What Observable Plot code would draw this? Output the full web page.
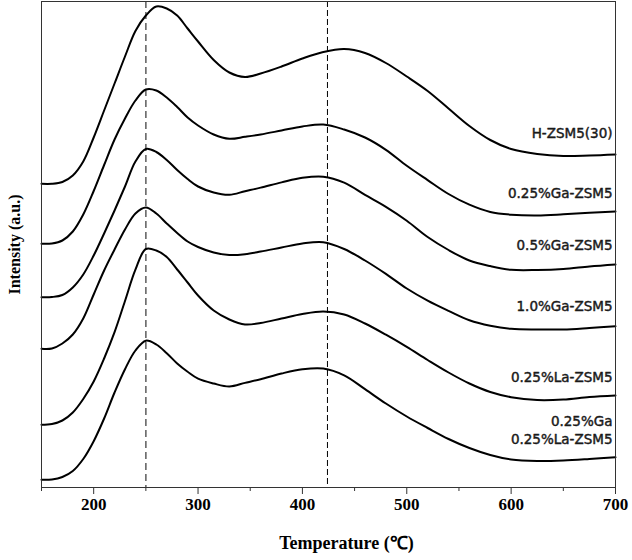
<!DOCTYPE html>
<html>
<head>
<meta charset="utf-8">
<script src="https://cdn.jsdelivr.net/npm/d3@7"></script>
<script src="https://cdn.jsdelivr.net/npm/@observablehq/plot@0.6"></script>
<style>
  html, body { margin: 0; padding: 0; background: #fff; }
  #chart svg { display: block; }
</style>
</head>
<body>
<div id="chart"></div>
<script>
// Temperature grid (°C)
const temps = [150,160,170,180,190,200,210,220,230,240,250,260,270,280,290,300,315,330,345,360,380,400,420,440,460,480,500,520,540,560,580,600,625,650,675,700];

// Stacked TPD intensities (a.u., curves offset vertically as in the figure)
const hzsm5   = [303.7,303.7,305.5,312,326,350,377,404,431,456.5,472,481,479,472,459,446,427.5,415,410.5,414,421,429,435.5,438.5,434.5,424.5,411,396.5,379,361.5,347.5,338.5,333.5,331.5,332,333];
const ga025   = [243.7,244,247,256,273,296.5,322.5,348,369,387,398,397,390,380.5,370,362,353,348.7,350.7,353,357,361,363,358,350,337.7,321.7,307.4,293.5,282.8,275.5,272.8,272,273.2,274.8,276];
const ga05    = [190.3,190.5,192.5,200,213,232,254,277,301,326,338.5,335.5,327.6,317.5,308.5,301,295,292.7,296.3,299.9,305.1,309.7,310.8,304.8,292.6,280.7,266.8,250.5,237.5,227,221.4,217.7,217.5,218.5,221,223];
const ga10    = [138.7,139,144,153,169,193,217,238,258,274,280,274,264,254.5,246,240.5,235,232.5,233.3,235.9,240,244,245.3,238.5,227,213.6,199,186.9,176.7,167.3,161.8,158.7,158,158,159.5,161.3];
const la025   = [62.7,63.5,67,75,88.5,106,129,155.3,186.5,217.8,238.5,237,230.5,218,205,192,177,168,163,164.5,169,173.5,176,173,164,152.8,140.6,127.5,115,104,95.5,90.3,87.5,88,90.5,92];
const gala025 = [7.7,8,10.5,16.5,28.5,46.3,69,95,118.3,137,146.8,143,134.3,124,115.7,108.8,104,101,104.6,108.3,114,118.3,119,112.1,98.3,84,71,59.5,48.5,39.5,32.5,28,26.5,27,28.5,30.3];

const seriesNames = ["H-ZSM5(30)","0.25%Ga-ZSM5","0.5%Ga-ZSM5","1.0%Ga-ZSM5","0.25%La-ZSM5","0.25%Ga\n0.25%La-ZSM5"];
const seriesValues = [hzsm5, ga025, ga05, ga10, la025, gala025];
const labelY = [355.3, 295.3, 243.5, 182, 111, 58.2];

const refTemps = [250];
const refTemps2 = [424];
const majorTicks = [200,300,400,500,600,700];
const minorTicks = [150,250,350,450,550,650];

const rows = seriesValues.flatMap((vals, s) =>
  vals.map((v, i) => ({series: seriesNames[s], T: temps[i], I: v})));
const labels = seriesNames.map((n, i) => ({name: n, T: 700, I: labelY[i]}));

const serif = "'Liberation Serif','Times New Roman',serif";
const sans = "'DejaVu Sans',sans-serif";

const chart = Plot.plot({
  width: 632,
  height: 560,
  marginLeft: 41,
  marginRight: 17,
  marginTop: 1,
  marginBottom: 73,
  x: {domain: [150, 700]},
  y: {domain: [0, 486], axis: null},
  style: {background: "#fff"},
  marks: [
    Plot.ruleX(refTemps, {stroke: "#666", strokeWidth: 1.6, strokeDasharray: "7,4"}),
    Plot.ruleX(refTemps2, {stroke: "#000", strokeWidth: 1, strokeDasharray: "6,3"}),
    Plot.line(rows, {x: "T", y: "I", z: "series", stroke: "#000", strokeWidth: 2, curve: "catmull-rom"}),
    Plot.text(labels, {x: "T", y: "I", text: "name", textAnchor: "end", dx: -3, lineHeight: 1.36,
      fontFamily: sans, fontSize: 13.5, fill: "#1a1a1a", stroke: "#1a1a1a", strokeWidth: 0.45}),
    Plot.axisX({ticks: minorTicks, tickSize: 4, tickFormat: () => "", label: null, stroke: "#333"}),
    Plot.axisX({ticks: majorTicks, tickSize: 7, tickPadding: 3, label: null, stroke: "#333",
      fontFamily: serif, fontSize: 17, fontWeight: "bold", fill: "#000"}),
    Plot.frame({stroke: "#333", strokeWidth: 1}),
    Plot.text(["Temperature (℃)"], {frameAnchor: "bottom", dx: 18, dy: 61, text: d => d,
      textAnchor: "middle", fontFamily: serif, fontSize: 18, fontWeight: "bold", fill: "#000"}),
    Plot.text(["Intensity (a.u.)"], {frameAnchor: "left", dx: -27, rotate: -90, text: d => d,
      textAnchor: "middle", fontFamily: serif, fontSize: 16, fontWeight: "bold", fill: "#000"})
  ]
});
document.getElementById("chart").appendChild(chart);
</script>
</body>
</html>
